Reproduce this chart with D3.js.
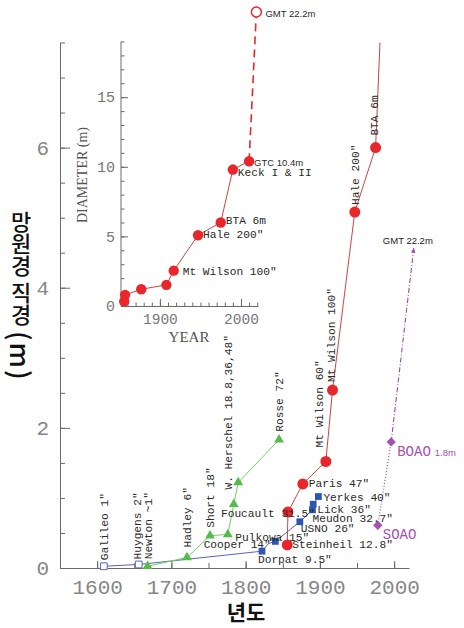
<!DOCTYPE html>
<html>
<head>
<meta charset="utf-8">
<script src="https://cdn.jsdelivr.net/npm/d3@7"></script>
<style>
  body { margin: 0; background: #fff; }
  svg { display: block; }
</style>
</head>
<body>
<svg id="chart" width="464" height="628"></svg>
<script>
// ---- data: telescope aperture (m) by year ----
// refracting telescopes (lenses)
const refractorNames = ["Galileo 1″", "Huygens 2″", "Dorpat 9.5″", "Cooper 14″", "Pulkowa 15″",
                        "USNO 26″", "Meudon 32.7″", "Lick 36″", "Yerkes 40″"];
const refractorYears = [1609, 1656, 1822, 1831, 1840, 1873, 1890, 1891, 1898];
const refractorDiam  = [0.025, 0.05, 0.24, 0.35, 0.38, 0.66, 0.83, 0.91, 1.02];
const refractorHollow = ["Galileo 1″", "Huygens 2″"];   // early instruments, open markers
const refractorNoMarker = ["Cooper 14″"];

// metal-mirror reflectors
const reflectorNames = ["Newton ~1″", "Hadley 6″", "Short 18″", "Herschel 18.8″", "Herschel 36″",
                        "Herschel 48″", "Rosse 72″"];
const reflectorYears = [1668, 1721, 1752, 1776, 1784, 1790, 1845];
const reflectorDiam  = [0.025, 0.15, 0.46, 0.48, 0.91, 1.22, 1.83];
const herschelLabel = "W. Herschel 18.8,36,48″";

// glass-mirror reflectors
const mirrorNames = ["Steinheil 12.8″", "Foucault 31.5″", "Paris 47″", "Mt Wilson 60″", "Mt Wilson 100″",
                     "Hale 200″", "BTA 6m", "Keck I & II", "GTC 10.4m"];
const mirrorYears = [1856, 1857, 1877, 1908, 1917, 1947, 1975, 1990, 2010];
const mirrorDiam  = [0.33, 0.80, 1.20, 1.52, 2.54, 5.08, 6.0, 9.8, 10.4];
const gmt = { name: "GMT 22.2m", year: 2019, diam: 22.2 };

// Korean national observatories
const koreaNames = ["SOAO", "BOAO"];
const koreaYears = [1978, 1996];
const koreaDiam  = [0.61, 1.8];
const koreaSizes = ["", "1.8m"];
const gmtPointer = { label: "GMT 22.2m", year: 2026.5, diam: 4.57 };

// axis ticks
const mainYearTicks = [1600, 1700, 1800, 1900, 2000];
const mainDiamTicks = [0, 2, 4, 6];
const insetYearTicks = [1900, 2000];
const insetDiamTicks = [0, 5, 10, 15];

// ---- helpers ----
const zip = (names, years, diam) => names.map((n, i) => ({ name: n, year: years[i], diam: diam[i] }));
const refractors = zip(refractorNames, refractorYears, refractorDiam);
const reflectors = zip(reflectorNames, reflectorYears, reflectorDiam);
const mirrors    = zip(mirrorNames, mirrorYears, mirrorDiam);
const korea      = zip(koreaNames, koreaYears, koreaDiam).map((d, i) => ({ ...d, size: koreaSizes[i] }));

const svg = d3.select("#chart");
const MONO = "'Liberation Mono', 'Courier New', monospace";
const SERIF = "'Liberation Serif', 'Times New Roman', serif";
const SANS = "'Liberation Sans', Arial, sans-serif";
const AXIS = "#6a6a6a";

const C = {
  red: "#e8262b", redLine: "#c9453f",
  green: "#55bb4a", greenLine: "#6fcf62",
  blue: "#2b57b3", blueLine: "#5b62b8",
  purple: "#a650b2", purpleLine: "#9d4aab"
};

// ---- main chart ----
const x = d3.scaleLinear().domain([1550, 2020]).range([60, 409]);
const y = d3.scaleLinear().domain([0, 7.5]).range([568, 42.5]);

svg.append("clipPath").attr("id", "plot-clip")
  .append("rect").attr("x", 60).attr("y", y(7.5)).attr("width", 360).attr("height", y(0) - y(7.5) + 20);

function styleAxis(g, size, color) {
  g.selectAll("path.domain").attr("stroke", AXIS);
  g.selectAll(".tick line").attr("stroke", AXIS);
  g.selectAll(".tick text").attr("font-family", MONO).attr("font-size", size).attr("fill", color);
}

// minor + major ticks, y
svg.append("g").attr("transform", "translate(60,0)")
  .call(d3.axisLeft(y).tickValues(d3.range(0, 7.51, 0.5)).tickSize(-5).tickSizeOuter(0).tickFormat(""))
  .call(g => styleAxis(g, 20, "#888"));
svg.append("g").attr("transform", "translate(60,0)")
  .call(d3.axisLeft(y).tickValues(mainDiamTicks).tickSize(-10).tickSizeOuter(0).tickPadding(11).tickFormat(d3.format("d")))
  .call(g => styleAxis(g, 21, "#868686"))
  .call(g => g.select(".domain").remove());

// x
svg.append("g").attr("transform", `translate(0,${y(0)})`)
  .call(d3.axisBottom(x).tickValues(d3.range(1600, 2001, 50)).tickSize(-5).tickSizeOuter(0).tickFormat(""))
  .call(g => styleAxis(g, 20, "#888"));
svg.append("g").attr("transform", `translate(0,${y(0)})`)
  .call(d3.axisBottom(x).tickValues(mainYearTicks).tickSize(-7).tickSizeOuter(0).tickPadding(11).tickFormat(d3.format("d")))
  .call(g => styleAxis(g, 21, "#868686"))
  .call(g => g.select(".domain").remove());

// axis titles
svg.append("text")
  .attr("x", 246).attr("y", 620)
  .attr("text-anchor", "middle")
  .attr("font-family", "'Noto Sans CJK KR', sans-serif").attr("font-weight", 700)
  .attr("font-size", 21).attr("fill", "#111")
  .text("년도");

const yTitle = svg.append("text")
  .attr("x", 21).attr("y", 211)
  .style("writing-mode", "vertical-rl")
  .attr("font-family", "'Noto Sans CJK KR', sans-serif").attr("font-weight", 500)
  .attr("font-size", 22).attr("fill", "#111");
yTitle.append("tspan").text("망원경 직경 ");
yTitle.append("tspan").attr("font-size", 27).attr("letter-spacing", 2).text("(m)");

const line = (sx, sy) => d3.line().x(d => sx(d.year)).y(d => sy(d.diam));
const plot = svg.append("g").attr("clip-path", "url(#plot-clip)");

// series lines
plot.append("path").datum(refractors).attr("d", line(x, y))
  .attr("fill", "none").attr("stroke", C.blueLine).attr("stroke-width", 1);
plot.append("path").datum(reflectors).attr("d", line(x, y))
  .attr("fill", "none").attr("stroke", C.greenLine).attr("stroke-width", 1);
plot.append("path").datum(mirrors).attr("d", line(x, y))
  .attr("fill", "none").attr("stroke", C.redLine).attr("stroke-width", 1);
plot.append("path").datum(korea).attr("d", line(x, y))
  .attr("fill", "none").attr("stroke", C.purpleLine).attr("stroke-width", 1.2).attr("stroke-dasharray", "1,2");
plot.append("path").datum([korea[1], gmtPointer]).attr("d", line(x, y))
  .attr("fill", "none").attr("stroke", C.purpleLine).attr("stroke-width", 1.1).attr("stroke-dasharray", "5,2,1,2");

// arrow head toward GMT
{
  const a = [x(korea[1].year), y(korea[1].diam)], b = [x(gmtPointer.year), y(gmtPointer.diam)];
  const ang = Math.atan2(b[1] - a[1], b[0] - a[0]) * 180 / Math.PI;
  svg.append("path").attr("d", "M0,0L-5,-2.2L-5,2.2Z")
    .attr("transform", `translate(${b[0]},${b[1]}) rotate(${ang})`)
    .attr("fill", C.purpleLine);
  svg.append("text").attr("x", b[0] - 6).attr("y", b[1] - 7)
    .attr("text-anchor", "middle").attr("dominant-baseline", "central")
    .attr("font-family", SANS).attr("font-size", 9.5).attr("fill", "#222")
    .text(gmtPointer.label);
}

// markers
const sym = (type, size) => d3.symbol().type(type).size(size)();
plot.selectAll(".ref").data(refractors.filter(d => !refractorNoMarker.includes(d.name))).join("path")
  .attr("d", sym(d3.symbolSquare, 46))
  .attr("transform", d => `translate(${x(d.year)},${y(d.diam)})`)
  .attr("fill", d => refractorHollow.includes(d.name) ? "#fff" : C.blue)
  .attr("stroke", d => refractorHollow.includes(d.name) ? C.blueLine : "none");
plot.selectAll(".rfl").data(reflectors).join("path")
  .attr("d", sym(d3.symbolTriangle, 42))
  .attr("transform", d => `translate(${x(d.year)},${y(d.diam)})`)
  .attr("fill", C.green);
plot.selectAll(".mir").data(mirrors).join("circle")
  .attr("cx", d => x(d.year)).attr("cy", d => y(d.diam)).attr("r", 5.5)
  .attr("fill", C.red);
plot.selectAll(".kor").data(korea).join("path")
  .attr("d", sym(d3.symbolSquare, 44))
  .attr("transform", d => `translate(${x(d.year)},${y(d.diam)}) rotate(45)`)
  .attr("fill", C.purple);

// horizontal point labels (offsets from the marker)
const flatLabels = {
  "Paris 47″": [6, 0], "Yerkes 40″": [5, 1], "Lick 36″": [4, 6], "Meudon 32.7″": [0, 9],
  "USNO 26″": [1, 7], "Steinheil 12.8″": [5, 0], "Dorpat 9.5″": [-4, 9], "Pulkowa 15″": [-40, -3],
  "Cooper 14″": [-65, 2], "Foucault 31.5″": [-67, 2]
};
const allMain = [...refractors, ...reflectors, ...mirrors];
const labelG = svg.append("g").attr("font-family", MONO).attr("font-size", 11.2).attr("fill", "#2a2a2a");
allMain.filter(d => flatLabels[d.name]).forEach(d => {
  const [dx, dy] = flatLabels[d.name];
  labelG.append("text").attr("x", x(d.year) + dx).attr("y", y(d.diam) + dy)
    .attr("dominant-baseline", "central").text(d.name);
});

// vertical point labels (reading upward)
const upLabels = {
  "Galileo 1″": [0, -6], "Huygens 2″": [-2, -5], "Newton ~1″": [0, -7], "Hadley 6″": [0, -10],
  "Short 18″": [0, -8], "Rosse 72″": [0, -8], "Mt Wilson 60″": [-7, -14], "Mt Wilson 100″": [-1, -8],
  "Hale 200″": [0, -7], "BTA 6m": [-2, -12], "Herschel 48″": [-10, 7]
};
allMain.filter(d => upLabels[d.name] && d.year <= 2020).forEach(d => {
  const [dx, dy] = upLabels[d.name];
  labelG.append("text")
    .attr("transform", `translate(${x(d.year) + dx},${y(d.diam) + dy}) rotate(-90)`)
    .attr("dy", "0.35em")
    .text(d.name === "Herschel 48″" ? herschelLabel : d.name);
});

// Korean observatories
const korLabels = { "SOAO": [5, 10], "BOAO": [6, 10] };
korea.forEach(d => {
  const [dx, dy] = korLabels[d.name];
  const t = svg.append("text").attr("x", x(d.year) + dx).attr("y", y(d.diam) + dy)
    .attr("dominant-baseline", "central").attr("fill", C.purple)
    .attr("font-family", MONO).attr("font-size", 14).text(d.name);
  if (d.size) t.append("tspan").attr("font-family", SANS).attr("font-size", 9.5).attr("dx", 4).text(d.size);
});

// ---- inset: modern era ----
const xi = d3.scaleLinear().domain([1852, 2021]).range([121, 258]);
// axis runs to 19 m; the span above it holds the planned 22.2 m mirror
const yi = d3.scaleLinear().domain([0, 19, 22.2]).range([306, 41.5, 12]);

svg.append("g").attr("transform", "translate(121,0)")
  .call(d3.axisLeft(yi).tickValues(d3.range(0, 20, 1)).tickSize(-3.5).tickSizeOuter(0).tickFormat(""))
  .call(g => g.select(".domain").remove())
  .call(g => styleAxis(g, 14, "#888"));
svg.append("g").attr("transform", "translate(121,0)")
  .call(d3.axisLeft(yi).tickValues(insetDiamTicks).tickSize(-7).tickSizeOuter(0).tickPadding(6).tickFormat(d3.format("d")))
  .call(g => g.select(".domain").remove())
  .call(g => styleAxis(g, 15, "#777"));
svg.append("line").attr("x1", 121).attr("x2", 121).attr("y1", yi(0)).attr("y2", yi(19)).attr("stroke", AXIS);

svg.append("g").attr("transform", `translate(0,${yi(0)})`)
  .call(d3.axisBottom(xi).tickValues(d3.range(1860, 2021, 10)).tickSize(-3.5).tickSizeOuter(0).tickFormat(""))
  .call(g => styleAxis(g, 14, "#888"));
svg.append("g").attr("transform", `translate(0,${yi(0)})`)
  .call(d3.axisBottom(xi).tickValues(insetYearTicks).tickSize(-7).tickSizeOuter(0).tickPadding(8).tickFormat(d3.format("d")))
  .call(g => g.select(".domain").remove())
  .call(g => styleAxis(g, 14.5, "#777"));

svg.append("text").attr("x", 189).attr("y", 342).attr("text-anchor", "middle")
  .attr("font-family", SERIF).attr("font-size", 15).attr("fill", "#555").text("YEAR");
svg.append("text").attr("transform", "translate(87,175) rotate(-90)").attr("text-anchor", "middle")
  .attr("font-family", SERIF).attr("font-size", 14).attr("fill", "#555").text("DIAMETER (m)");

svg.append("path").datum(mirrors).attr("d", line(xi, yi))
  .attr("fill", "none").attr("stroke", C.redLine).attr("stroke-width", 1);
svg.append("path").datum([mirrors[mirrors.length - 1], gmt]).attr("d", line(xi, yi))
  .attr("fill", "none").attr("stroke", C.red).attr("stroke-width", 1.6).attr("stroke-dasharray", "8,5");
svg.selectAll(".imir").data(mirrors).join("circle")
  .attr("cx", d => xi(d.year)).attr("cy", d => yi(d.diam)).attr("r", 5.2).attr("fill", C.red);
svg.append("circle").attr("cx", xi(gmt.year)).attr("cy", yi(gmt.diam)).attr("r", 5)
  .attr("fill", "#fff").attr("stroke", C.red).attr("stroke-width", 1.5);

const insetLabels = {
  "Mt Wilson 100″": [9, 1, MONO, 11.2], "Hale 200″": [5, 0, MONO, 11.2], "BTA 6m": [5, -1, MONO, 11.2],
  "Keck I & II": [5, 3, MONO, 11.2], "GTC 10.4m": [5, 1, SANS, 9.5]
};
mirrors.filter(d => insetLabels[d.name]).forEach(d => {
  const [dx, dy, f, s] = insetLabels[d.name];
  svg.append("text").attr("x", xi(d.year) + dx).attr("y", yi(d.diam) + dy)
    .attr("dominant-baseline", "central").attr("font-family", f).attr("font-size", s).attr("fill", "#2a2a2a")
    .text(d.name);
});
svg.append("text").attr("x", xi(gmt.year) + 9).attr("y", yi(gmt.diam) + 1)
  .attr("dominant-baseline", "central").attr("font-family", SANS).attr("font-size", 9.5).attr("fill", "#2a2a2a")
  .text(gmt.name);
</script>
</body>
</html>
